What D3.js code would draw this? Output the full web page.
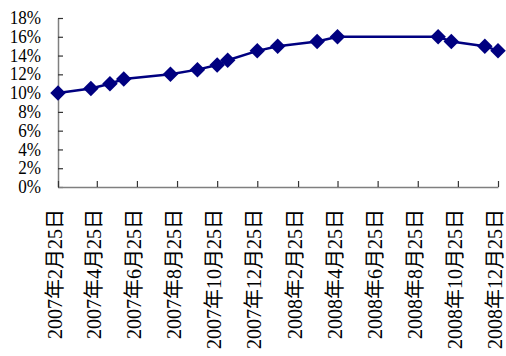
<!DOCTYPE html>
<html>
<head>
<meta charset="utf-8">
<script src="https://cdn.jsdelivr.net/npm/d3@7/dist/d3.min.js"></script>
<style>
  html, body { margin: 0; padding: 0; background: #fff; }
  svg { display: block; }
  text { font-family: "Liberation Serif", "Noto Sans CJK SC", serif; fill: #000; }
</style>
</head>
<body>
<script>
// Reserve requirement ratio by adjustment date
const dates = ["2007-02-25", "2007-04-16", "2007-05-15", "2007-06-05", "2007-08-15",
               "2007-09-25", "2007-10-25", "2007-11-10", "2007-12-25", "2008-01-25",
               "2008-03-25", "2008-04-25", "2008-09-25", "2008-10-15", "2008-12-05",
               "2008-12-25"];
const ratios = [10, 10.5, 11, 11.5, 12, 12.5, 13, 13.5, 14.5, 15, 15.5, 16, 16, 15.5, 15, 14.5];

// Axis ticks: every two months on the 25th, and 0–18% by 2
const xTickDates = ["2007-02-25", "2007-04-25", "2007-06-25", "2007-08-25", "2007-10-25",
                    "2007-12-25", "2008-02-25", "2008-04-25", "2008-06-25", "2008-08-25",
                    "2008-10-25", "2008-12-25"];
const yTicks = [0, 2, 4, 6, 8, 10, 12, 14, 16, 18];

const W = 506, H = 356;
const parse = d3.timeParse("%Y-%m-%d");
const fmt = d3.timeFormat("%Y年%-m月%-d日");

const data = dates.map((d, i) => ({ date: parse(d), value: ratios[i] }));

const svg = d3.select("body").append("svg").attr("width", W).attr("height", H);

const x = d3.scaleTime()
  .domain([parse(xTickDates[0]), parse(xTickDates[xTickDates.length - 1])])
  .range([58, 498]);
const y = d3.scaleLinear().domain([0, 18]).range([187, 18]);

const axisColor = "#7f7f7f";

// Y axis
const yAxis = svg.append("g").attr("transform", "translate(58,0)")
  .call(d3.axisLeft(y).tickValues(yTicks).tickSizeInner(-5).tickSizeOuter(0).tickFormat(() => ""));
yAxis.select(".domain").attr("stroke", axisColor).attr("stroke-width", 1.5);
yAxis.selectAll(".tick line").attr("stroke", "#333").attr("stroke-width", 1.2);

svg.append("g").selectAll("text").data(yTicks).join("text")
  .attr("transform", d => `translate(41,${y(d)}) scale(0.95,1)`)
  .attr("text-anchor", "end")
  .attr("dominant-baseline", "central")
  .attr("font-size", 18)
  .text(d => d + "%");

// X axis
const xAxis = svg.append("g").attr("transform", "translate(0,187)")
  .call(d3.axisBottom(x).tickValues(xTickDates.map(parse)).tickSizeInner(-6).tickSizeOuter(0).tickFormat(() => ""));
xAxis.select(".domain").attr("stroke", axisColor).attr("stroke-width", 1.5);
xAxis.selectAll(".tick line").attr("stroke", "#333").attr("stroke-width", 1.2);

svg.append("g").selectAll("text").data(xTickDates).join("text")
  .attr("transform", d => `translate(${x(parse(d)) - 3},209) rotate(-90)`)
  .attr("text-anchor", "end")
  .attr("dominant-baseline", "central")
  .attr("font-size", 20)
  .text(d => fmt(parse(d)));

// Series line and diamond markers
const navy = "#000080";
svg.append("path").datum(data)
  .attr("fill", "none")
  .attr("stroke", navy)
  .attr("stroke-width", 2.5)
  .attr("d", d3.line().x(d => x(d.date)).y(d => y(d.value)));

svg.append("g").selectAll("path").data(data).join("path")
  .attr("transform", d => `translate(${x(d.date)},${y(d.value)}) rotate(45)`)
  .attr("d", d3.symbol(d3.symbolSquare, 120))
  .attr("fill", navy);
</script>
</body>
</html>
